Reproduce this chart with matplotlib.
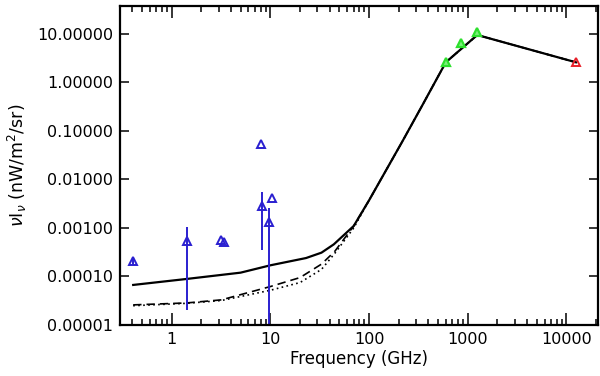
import numpy as np
import matplotlib
matplotlib.use("Agg")
import matplotlib.pyplot as plt
from matplotlib.ticker import FixedLocator, FuncFormatter, NullLocator, LogLocator

# %%
# model curves (GHz, nW/m^2/sr)
freq_model = [0.408, 1.42, 5.0, 10.0, 23.0, 33.0, 44.0, 70.0, 100.0, 217.0, 353.0, 600.0, 1250.0, 12500.0]
total_model = [6.7e-5, 8.9e-5, 1.2e-4, 1.7e-4, 2.4e-4, 3.1e-4, 4.6e-4, 1.1e-3, 3.7e-3, 0.06, 0.36, 2.6, 9.5, 2.6]

freq_low = [0.408, 1.42, 3.2, 10.0, 20.0, 33.0, 45.0, 70.0, 100.0, 217.0, 353.0, 600.0, 1250.0, 12500.0]
dashed_model = [2.6e-5, 2.85e-5, 3.3e-5, 6.2e-5, 9.5e-5, 1.8e-4, 3.3e-4, 1.1e-3, 3.7e-3, 0.06, 0.36, 2.6, 9.5, 2.6]
dotted_model = [2.5e-5, 2.8e-5, 3.2e-5, 5.2e-5, 7.5e-5, 1.4e-4, 3.0e-4, 1.0e-3, 3.7e-3, 0.06, 0.36, 2.6, 9.5, 2.6]

# radio measurements
radio_freq = [0.408, 1.42, 3.2, 3.41, 7.97, 8.33, 9.72, 10.49]
radio_val = [2.1e-4, 5.5e-4, 5.7e-4, 5.2e-4, 5.3e-2, 2.9e-3, 1.35e-3, 4.1e-3]
radio_lo = [1.7e-4, 2.0e-5, 5.7e-4, 5.2e-4, 5.3e-2, 3.6e-4, 1.0e-6, 4.1e-3]
radio_hi = [2.5e-4, 1.07e-3, 5.7e-4, 5.2e-4, 5.3e-2, 5.4e-3, 2.6e-3, 4.1e-3]

# far-IR points
fir_freq = [600.0, 857.0, 1250.0]
fir_val = [2.6, 6.6, 11.1]
mir_freq = [12500.0]
mir_val = [2.6]

xticks = [1, 10, 100, 1000, 10000]
yticks = [1e-5, 1e-4, 1e-3, 1e-2, 1e-1, 1, 10]

# %%
plt.rcParams['font.family'] = ['DejaVu Sans']
fig = plt.figure(figsize=(6.0, 3.76), dpi=100)
ax = fig.add_axes([0.2, 0.1356, 0.797, 0.849])

ax.plot(freq_low, dotted_model, color='black', lw=1.2, ls=(0, (1, 2)))
ax.plot(freq_low, dashed_model, color='black', lw=1.2, ls=(0, (5, 3)))
ax.plot(freq_model, total_model, color='black', lw=1.6)

rv = np.array(radio_val)
yerr = [rv - np.array(radio_lo), np.array(radio_hi) - rv]
ax.errorbar(radio_freq, radio_val, yerr=yerr, fmt='^', color='#2a1fd0', mfc='none',
            mec='#2a1fd0', ms=6, mew=1.4, elinewidth=1.4, capsize=0)
ax.plot(fir_freq, fir_val, '^', mfc='#7cf07c', mec='#2ee02e', ms=6, mew=1.6)
ax.plot(mir_freq, mir_val, '^', mfc='none', mec='#e8202a', ms=6, mew=1.4)

ax.set_xscale('log')
ax.set_yscale('log')
ax.set_xlim(0.3, 2.1e4)
ax.set_ylim(1e-5, 38)

ax.xaxis.set_major_locator(FixedLocator(xticks))
ax.xaxis.set_major_formatter(FuncFormatter(lambda v, p: '%d' % v))
ax.xaxis.set_minor_locator(LogLocator(base=10, subs=np.arange(2, 10)))
ax.yaxis.set_major_locator(FixedLocator(yticks))
ax.yaxis.set_major_formatter(FuncFormatter(lambda v, p: '%.5f' % v))
ax.yaxis.set_minor_locator(NullLocator())

ax.tick_params(which='both', direction='in', top=True, right=True, labelsize=11.5, width=1.1, pad=5)
ax.tick_params(axis='x', which='major', length=8.5)
ax.tick_params(axis='y', which='major', length=6.5)
ax.tick_params(which='minor', length=4.5)
for s in ax.spines.values():
    s.set_linewidth(1.6)

ax.set_xlabel('Frequency (GHz)', fontsize=12, labelpad=2)
ax.set_ylabel(r'$\nu$I$_\nu$ (nW/m$^2$/sr)', fontsize=12.5, labelpad=6)

fig.savefig('out.png', dpi=100)
